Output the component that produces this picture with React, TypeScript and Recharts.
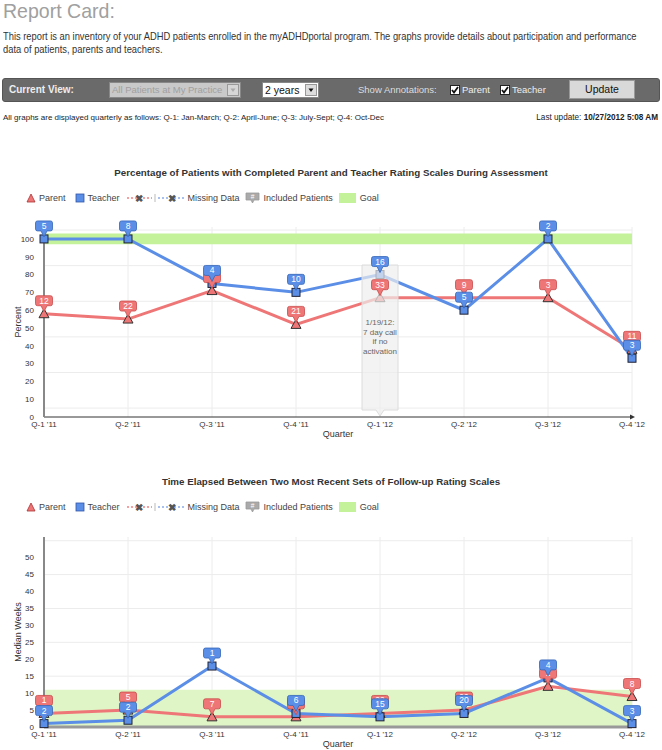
import React from 'react'
import { LineChart, Line, XAxis, YAxis, CartesianGrid, ReferenceArea, ReferenceDot } from 'recharts'

const quarters = ["Q-1 '11", "Q-2 '11", "Q-3 '11", "Q-4 '11", "Q-1 '12", "Q-2 '12", "Q-3 '12", "Q-4 '12"]

// chart 1: % of patients with completed rating scales
const parentPct = [58, 55, 71, 52, 67, 67, 67, 38]
const teacherPct = [100, 100, 75, 70, 80, 60, 100, 33]
const parentPctN = [12, 22, 7, 21, 33, 9, 3, 11]
const teacherPctN = [5, 8, 4, 10, 16, 5, 2, 3]
const pctTicks = [0, 10, 20, 30, 40, 50, 60, 70, 80, 90, 100]
const pctGrid = [5, 15, 25, 35, 45, 55, 65, 75, 85, 95, 105]
const pctGoal = [97, 103]
const notes = ['', '', '', '', '1/19/12:|7 day call|if no|activation', '', '', '']

// chart 2: median weeks between follow-up rating scales
const parentWeeks = [4, 5, 3, 3, 4, 5, 12, 9]
const teacherWeeks = [1, 2, 18, 4, 3, 4, 14.5, 1]
const parentWeeksN = [1, 5, 7, 6, 22, 20, 1, 8]
const teacherWeeksN = [2, 2, 1, 6, 15, 20, 4, 3]
const weekTicks = [0, 5, 10, 15, 20, 25, 30, 35, 40, 45, 50]
const weekGrid = [55]
const weekGoal = [0, 11]

const RED = '#ef7676'
const RED_DARK = '#c94a4a'
const BLUE = '#5b8ee6'
const BLUE_DARK = '#3566b8'
const sans = "'Liberation Sans', Arial, sans-serif"

const pctData = quarters.map((q, i) => ({
  q,
  parent: parentPct[i],
  teacher: teacherPct[i],
  parentN: parentPctN[i],
  teacherN: teacherPctN[i],
  note: notes[i],
  noteY: notes[i] ? 0 : null,
}))

const weekData = quarters.map((q, i) => ({
  q,
  parent: parentWeeks[i],
  teacher: teacherWeeks[i],
  parentN: parentWeeksN[i],
  teacherN: teacherWeeksN[i],
}))

function Tri(props: any) {
  const { cx, cy } = props
  if (cx == null || cy == null) return null
  return <path d={`M${cx},${cy - 5}L${cx + 5},${cy + 4}L${cx - 5},${cy + 4}Z`} fill={RED} stroke="#333" strokeWidth={1} />
}

function Sq(props: any) {
  const { cx, cy } = props
  if (cx == null || cy == null) return null
  return <rect x={cx - 4} y={cy - 4} width={8} height={8} fill={BLUE} stroke="#223" strokeWidth={1} />
}

function makeCallout(nKey: string, fill: string, stroke: string) {
  return (props: any) => {
    const { cx, cy, payload, index } = props
    if (cx == null || cy == null) return null
    const w = 17
    const top = cy - 18
    return (
      <g key={`${nKey}-${index}`}>
        <path
          d={`M${cx - w / 2 + 2},${top} H${cx + w / 2 - 2} Q${cx + w / 2},${top} ${cx + w / 2},${top + 2} V${top + 8} Q${cx + w / 2},${top + 10} ${cx + w / 2 - 2},${top + 10} H${cx + 3} L${cx},${cy - 2} L${cx - 3},${top + 10} H${cx - w / 2 + 2} Q${cx - w / 2},${top + 10} ${cx - w / 2},${top + 8} V${top + 2} Q${cx - w / 2},${top} ${cx - w / 2 + 2},${top} Z`}
          fill={fill}
          stroke={stroke}
          strokeWidth={0.8}
        />
        <text x={cx} y={top + 8} textAnchor="middle" fontSize={8.5} fill="#fff" fontFamily={sans}>
          {payload[nKey]}
        </text>
      </g>
    )
  }
}

function NoteBox(props: any) {
  const { cx, cy, payload, index } = props
  if (cx == null || cy == null || !payload.note) return null
  const lines: string[] = payload.note.split('|')
  return (
    <g key={`note-${index}`}>
      <path
        d={`M${cx - 18},${cy - 152} H${cx + 18} V${cy - 7} H${cx + 4} L${cx},${cy - 1} L${cx - 4},${cy - 7} H${cx - 18} Z`}
        fill="rgba(238,238,238,0.7)"
        stroke="#dcdcdc"
        strokeWidth={1}
      />
      {lines.map((l, i) => (
        <text key={i} x={cx} y={cy - 92 + i * 9.5} textAnchor="middle" fontSize={8} fill="#666" fontFamily={sans}>
          {l}
        </text>
      ))}
    </g>
  )
}

function Arrow(props: any) {
  const { cx, cy } = props
  return <path d={`M${cx - 2},${cy - 2.5} L${cx + 3},${cy} L${cx - 2},${cy + 2.5} Z`} fill="#333" />
}

function Legend() {
  const item = { display: 'flex', alignItems: 'center', marginRight: 9 } as React.CSSProperties
  return (
    <div style={{ display: 'flex', alignItems: 'center', fontFamily: sans, fontSize: 9, color: '#444' }}>
      <span style={item}>
        <svg width={10} height={10} style={{ marginRight: 3 }}>
          <path d="M5,1 L9,9 L1,9 Z" fill={RED} stroke="#a33" strokeWidth={0.8} />
        </svg>
        Parent
      </span>
      <span style={{ ...item, marginRight: 6 }}>
        <svg width={10} height={10} style={{ marginRight: 3 }}>
          <rect x={1} y={1} width={8} height={8} fill={BLUE} stroke="#35a" strokeWidth={0.8} />
        </svg>
        Teacher
      </span>
      <span style={{ ...item, marginRight: 5 }}>
        <svg width={60} height={10} style={{ marginRight: 2 }}>
          <line x1={1} y1={5} x2={26} y2={5} stroke="#f2a0a0" strokeWidth={2} strokeDasharray="2 2" />
          <text x={13} y={8.5} textAnchor="middle" fontSize={10} fontWeight="bold" fill="#555" fontFamily={sans}>✖</text>
          <line x1={29} y1={1} x2={29} y2={9} stroke="#bbb" strokeWidth={1} />
          <line x1={32} y1={5} x2={59} y2={5} stroke="#a8c0f0" strokeWidth={2} strokeDasharray="2 2" />
          <text x={46} y={8.5} textAnchor="middle" fontSize={10} fontWeight="bold" fill="#555" fontFamily={sans}>✖</text>
        </svg>
        Missing Data
      </span>
      <span style={{ ...item, marginRight: 6 }}>
        <svg width={15} height={12} style={{ marginRight: 4 }}>
          <path d="M1,1 H14 V8 H9 L7.5,11 L6,8 H1 Z" fill="#aaa" stroke="#999" strokeWidth={0.8} />
          <text x={7.5} y={7} textAnchor="middle" fontSize={6.5} fill="#fff" fontFamily={sans}>#</text>
        </svg>
        Included Patients
      </span>
      <span style={item}>
        <span style={{ display: 'inline-block', width: 17, height: 10, background: '#c4f29a', marginRight: 4 }} />
        Goal
      </span>
    </div>
  )
}

function Check({ label }: { label: string }) {
  return (
    <span style={{ display: 'inline-flex', alignItems: 'center', marginRight: 10 }}>
      <svg width={10} height={10} style={{ marginRight: 2 }}>
        <rect x={0.5} y={0.5} width={9} height={9} fill="#fff" stroke="#222" />
        <path d="M2,5 L4,7.5 L8,2" fill="none" stroke="#111" strokeWidth={1.8} />
      </svg>
      {label}
    </span>
  )
}

function SelectBox({ text, width, disabled, fontSize }: { text: string; width: number; disabled?: boolean; fontSize: number }) {
  return (
    <div
      style={{
        position: 'absolute',
        width,
        height: 16,
        background: disabled ? '#c9c9c9' : '#fff',
        border: '1px solid #888',
        color: disabled ? '#a0a0a0' : '#111',
        fontSize,
        lineHeight: '14px',
        paddingLeft: 2,
        boxSizing: 'border-box',
        whiteSpace: 'nowrap',
        overflow: 'hidden',
      }}
    >
      {text}
      <span
        style={{
          position: 'absolute',
          right: 1,
          top: 1,
          width: 12,
          height: 12,
          background: disabled ? '#d6d6d6' : '#ddd',
          border: '1px solid #999',
          boxSizing: 'border-box',
        }}
      >
        <svg width={10} height={10} style={{ position: 'absolute', left: 0, top: 0 }}>
          <path d="M2.5,3.5 L7.5,3.5 L5,7 Z" fill={disabled ? '#aaa' : '#111'} />
        </svg>
      </span>
    </div>
  )
}

function ChartTitle({ text, top }: { text: string; top: number }) {
  return (
    <div
      style={{
        position: 'absolute',
        top,
        left: 0,
        width: 662,
        textAlign: 'center',
        fontFamily: sans,
        fontWeight: 'bold',
        fontSize: 9.75,
        color: '#333',
      }}
    >
      {text}
    </div>
  )
}

const tickStyle = { fontSize: 8, fill: '#333', fontFamily: sans }

export default function App() {
  return (
    <div style={{ position: 'absolute', left: 0, top: 0, width: 662, height: 750, background: '#fff', fontFamily: sans, overflow: 'hidden' }}>
      <div style={{ position: 'absolute', left: 3, top: 0, fontSize: 21, lineHeight: '21px', color: '#a0a0a0', transform: 'scaleX(0.93)', transformOrigin: 'left top', whiteSpace: 'nowrap' }}>
        Report Card:
      </div>
      <div style={{ position: 'absolute', left: 3, top: 30, fontSize: 10.5, lineHeight: '13px', color: '#333', whiteSpace: 'nowrap', transform: 'scaleX(0.89)', transformOrigin: 'left top' }}>
        This report is an inventory of your ADHD patients enrolled in the myADHDportal program. The graphs provide details about participation and performance
        <br />
        data of patients, parents and teachers.
      </div>

      <div
        style={{
          position: 'absolute',
          left: 2,
          top: 78,
          width: 658,
          height: 24,
          background: '#6a6a6a',
          borderRadius: 3,
          border: '1px solid #555',
          boxSizing: 'border-box',
          fontSize: 10,
          color: '#eee',
        }}
      >
        <div style={{ position: 'absolute', left: 6, top: 5, fontWeight: 'bold' }}>Current View:</div>
        <div style={{ position: 'absolute', left: 106, top: 3 }}>
          <SelectBox text="All Patients at My Practice" width={132} disabled fontSize={9.5} />
        </div>
        <div style={{ position: 'absolute', left: 259, top: 3 }}>
          <SelectBox text="2 years" width={57} fontSize={10.5} />
        </div>
        <div style={{ position: 'absolute', left: 355, top: 5, color: '#ddd', fontSize: 9.5 }}>Show Annotations:</div>
        <div style={{ position: 'absolute', left: 447, top: 5, display: 'flex', alignItems: 'center', color: '#eee', fontSize: 9.5 }}>
          <Check label="Parent" />
          <Check label="Teacher" />
        </div>
        <div
          style={{
            position: 'absolute',
            left: 566,
            top: 1,
            width: 66,
            height: 19,
            background: '#d9d9d9',
            border: '1px solid #999',
            boxSizing: 'border-box',
            color: '#111',
            textAlign: 'center',
            lineHeight: '17px',
            fontSize: 10.5,
          }}
        >
          Update
        </div>
      </div>

      <div style={{ position: 'absolute', left: 3, top: 113, fontSize: 8, lineHeight: '10px', color: '#222' }}>
        All graphs are displayed quarterly as follows: Q-1: Jan-March; Q-2: April-June; Q-3: July-Sept; Q-4: Oct-Dec
      </div>
      <div style={{ position: 'absolute', right: 4, top: 113, fontSize: 8.2, lineHeight: '10px', color: '#222' }}>
        Last update: <b>10/27/2012 5:08 AM</b>
      </div>

      <ChartTitle text="Percentage of Patients with Completed Parent and Teacher Rating Scales During Assessment" top={167} />
      <div style={{ position: 'absolute', left: 26, top: 192 }}>
        <Legend />
      </div>
      <div style={{ position: 'absolute', left: 0, top: 215 }}>
        <LineChart width={662} height={225} data={pctData} margin={{ top: 12, right: 30, bottom: 3, left: 8 }}>
          <CartesianGrid stroke="#ececec" horizontalValues={[...pctTicks, ...pctGrid]} />
          <ReferenceArea y1={pctGoal[0]} y2={pctGoal[1]} x1={quarters[0]} x2={quarters[7]} fill="#c4f29a" fillOpacity={1} stroke="none" />
          <XAxis
            dataKey="q"
            tick={tickStyle}
            tickLine={false}
            tickSize={0}
            tickMargin={4}
            axisLine={{ stroke: '#333', strokeWidth: 1 }}
            height={20}
            interval={0}
            label={{ value: 'Quarter', position: 'insideBottom', offset: 0, style: { fontSize: 9, fill: '#333', fontFamily: sans } }}
          />
          <YAxis
            domain={[0, 106.7]}
            ticks={pctTicks}
            tick={tickStyle}
            tickLine={false}
            tickMargin={4}
            axisLine={{ stroke: '#888', strokeWidth: 2 }}
            width={36}
            label={{ value: 'Percent', angle: -90, position: 'insideLeft', offset: 10, style: { fontSize: 9, fill: '#333', fontFamily: sans, textAnchor: 'middle' } }}
          />
          <ReferenceDot x={quarters[7]} y={0} r={3} shape={Arrow} ifOverflow="visible" />
          <Line dataKey="parent" stroke={RED} strokeWidth={3} dot={Tri} activeDot={false} isAnimationActive={false} />
          <Line dataKey="teacher" stroke={BLUE} strokeWidth={3} dot={Sq} activeDot={false} isAnimationActive={false} />
          <Line dataKey="noteY" stroke="none" dot={NoteBox} activeDot={false} isAnimationActive={false} />
          <Line dataKey="parent" stroke="none" dot={makeCallout('parentN', RED, RED_DARK)} activeDot={false} isAnimationActive={false} />
          <Line dataKey="teacher" stroke="none" dot={makeCallout('teacherN', BLUE, BLUE_DARK)} activeDot={false} isAnimationActive={false} />
        </LineChart>
      </div>

      <ChartTitle text="Time Elapsed Between Two Most Recent Sets of Follow-up Rating Scales" top={476} />
      <div style={{ position: 'absolute', left: 26, top: 501 }}>
        <Legend />
      </div>
      <div style={{ position: 'absolute', left: 0, top: 525 }}>
        <LineChart width={662} height={225} data={weekData} margin={{ top: 12, right: 30, bottom: 3, left: 8 }}>
          <CartesianGrid stroke="#ececec" horizontalValues={[...weekTicks, ...weekGrid]} />
          <ReferenceArea y1={weekGoal[0]} y2={weekGoal[1]} x1={quarters[0]} x2={quarters[7]} fill="#dff5c6" fillOpacity={1} stroke="none" />
          <XAxis
            dataKey="q"
            tick={tickStyle}
            tickLine={false}
            tickSize={0}
            tickMargin={4}
            axisLine={{ stroke: '#999', strokeWidth: 3 }}
            height={20}
            interval={0}
            label={{ value: 'Quarter', position: 'insideBottom', offset: 0, style: { fontSize: 9, fill: '#333', fontFamily: sans } }}
          />
          <YAxis
            domain={[0, 56.1]}
            ticks={weekTicks}
            tick={tickStyle}
            tickLine={false}
            tickMargin={4}
            axisLine={{ stroke: '#888', strokeWidth: 2 }}
            width={36}
            label={{ value: 'Median Weeks', angle: -90, position: 'insideLeft', offset: 10, style: { fontSize: 9, fill: '#333', fontFamily: sans, textAnchor: 'middle' } }}
          />
          <Line dataKey="parent" stroke={RED} strokeWidth={3} dot={Tri} activeDot={false} isAnimationActive={false} />
          <Line dataKey="teacher" stroke={BLUE} strokeWidth={3} dot={Sq} activeDot={false} isAnimationActive={false} />
          <Line dataKey="parent" stroke="none" dot={makeCallout('parentN', RED, RED_DARK)} activeDot={false} isAnimationActive={false} />
          <Line dataKey="teacher" stroke="none" dot={makeCallout('teacherN', BLUE, BLUE_DARK)} activeDot={false} isAnimationActive={false} />
        </LineChart>
      </div>
    </div>
  )
}
